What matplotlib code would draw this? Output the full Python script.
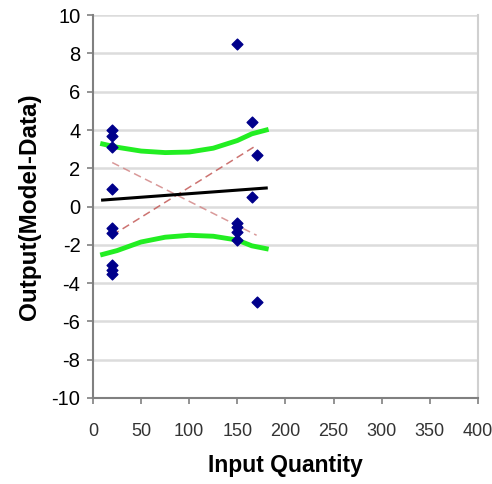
import numpy as np
import matplotlib.pyplot as plt

plt.rcParams['font.family'] = ['Liberation Sans', 'DejaVu Sans']

# scatter data (model - data residuals)
pts_x = [20, 20, 20, 20, 20, 20, 20, 20, 20,
         150, 150, 150, 150, 150, 165, 165, 170, 170]
pts_y = [4.0, 3.7, 3.1, 0.9, -1.1, -1.4, -3.05, -3.3, -3.5,
         8.5, -0.85, -1.05, -1.35, -1.75, 4.4, 0.5, 2.7, -5.0]

# black fit line
fit_x = [10, 180]
fit_y = [0.34, 0.97]

# green confidence bands
band_x = [10, 25, 50, 75, 100, 125, 150, 165, 180]
upper_y = [3.27, 3.1, 2.9, 2.82, 2.85, 3.05, 3.45, 3.8, 4.0]
lower_y = [-2.5, -2.3, -1.85, -1.6, -1.5, -1.55, -1.75, -2.05, -2.2]

# red dashed lines
up_x = [20, 170]
up_y = [-1.5, 3.2]
down_x = [20, 170]
down_y = [2.3, -1.5]

xticks = [0, 50, 100, 150, 200, 250, 300, 350, 400]
yticks = [-10, -8, -6, -4, -2, 0, 2, 4, 6, 8, 10]

fig = plt.figure(figsize=(4.92, 4.84), dpi=100)
ax = fig.add_axes([0.189, 0.1777, 0.7825, 0.791])

for yv in yticks:
    ax.axhline(yv, color='#dcdcdc', linewidth=1.8, zorder=0)

ax.plot(band_x, upper_y, color='#22ee22', linewidth=3.5, zorder=2)
ax.plot(band_x, lower_y, color='#22ee22', linewidth=3.5, zorder=2)
ax.plot(up_x, up_y, color='#c0504d', linestyle=(0, (5, 3)), linewidth=1.1, alpha=0.8, zorder=3)
ax.plot(down_x, down_y, color='#d08080', linestyle=(0, (5, 3)), linewidth=1.1, alpha=0.8, zorder=3)
ax.plot(fit_x, fit_y, color='black', linewidth=2.2, zorder=4)
ax.scatter(pts_x, pts_y, marker='D', s=30, color='#00008b', zorder=5)

ax.set_xlim(0, 400)
ax.set_ylim(-10, 10)
ax.set_xticks(xticks)
ax.set_yticks(yticks)
ax.set_xticklabels([str(v) for v in xticks], fontsize=13, color='#333333')
ax.set_yticklabels([str(v) for v in yticks], fontsize=14.5, color='black')
ax.tick_params(axis='both', direction='out', length=4, width=1.2, color='#808080')
ax.tick_params(axis='x', pad=14)
ax.tick_params(axis='y', pad=5)

ax.spines['top'].set_visible(False)
ax.spines['right'].set_color('#d0d0d0')
ax.spines['right'].set_linewidth(1.5)
for s in ['left', 'bottom']:
    ax.spines[s].set_color('#808080')
    ax.spines[s].set_linewidth(1.5)

ax.set_xlabel('Input Quantity', fontsize=16.5, fontweight='bold', labelpad=10)
ax.set_ylabel('Output(Model-Data)', fontsize=17.5, fontweight='bold', labelpad=8)

fig.savefig('out.png', dpi=100)
